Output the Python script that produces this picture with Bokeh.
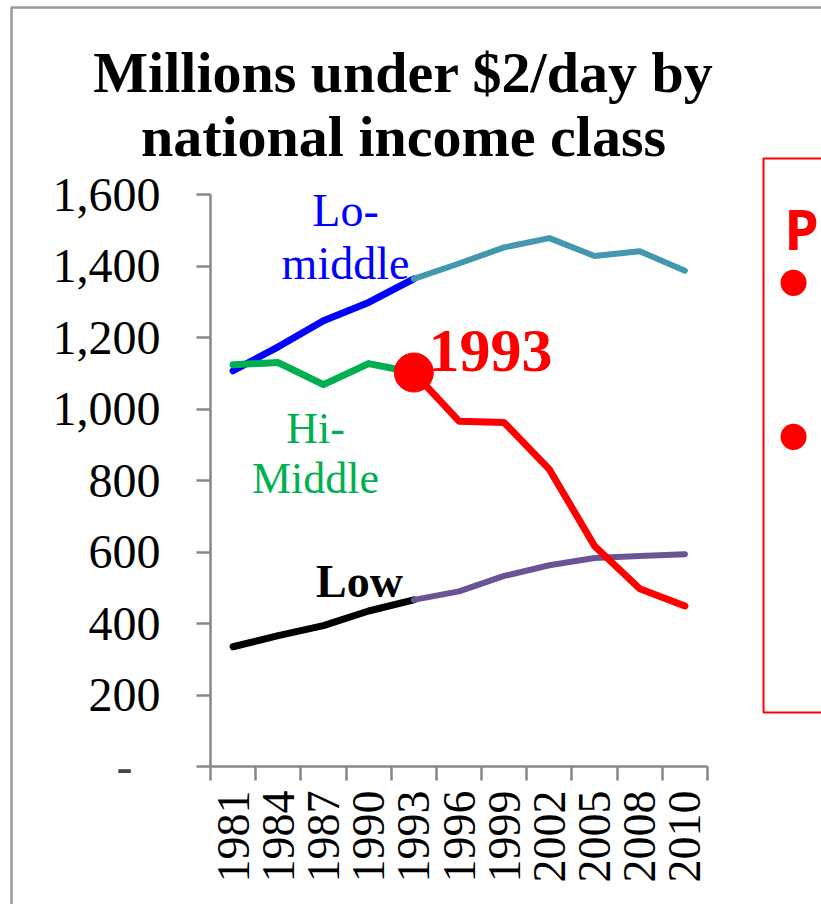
from math import pi

from bokeh.embed import file_html
from bokeh.models import (FixedTicker, Label, LinearAxis, NumeralTickFormatter,
                          PolyAnnotation, Range1d)
from bokeh.plotting import figure
from bokeh.resources import INLINE

# Millions of people living under $2/day, by national income class
years = ["1981", "1984", "1987", "1990", "1993", "1996",
         "1999", "2002", "2005", "2008", "2010"]
lo_middle = [1107, 1174, 1247, 1298, 1364, 1407, 1452, 1478, 1428, 1441, 1387]
hi_middle = [1124, 1130, 1068, 1127, 1102, 966, 962, 831, 617, 497, 449]
low = [335, 366, 394, 435, 466, 490, 533, 563, 583, 589, 594]
y_ticks = [0, 200, 400, 600, 800, 1000, 1200, 1400, 1600]
split_year = "1993"

W, H = 821, 904
# pixel box of the chart area inside the slide
LEFT, RIGHT, TOP, BOTTOM = 210, 707, 194, 766
Y_MAX = 1600
SERIF = "Liberation Serif"
GREY = "#878787"


# canvas pixel -> data coordinate helpers (the plot frame fills the canvas)
def dx(px):
    return (px - LEFT) / (RIGHT - LEFT) * len(years)


def dy(py):
    return (BOTTOM - py) / (BOTTOM - TOP) * Y_MAX


p = figure(width=W, height=H, output_backend="svg", toolbar_location=None,
           x_range=Range1d(dx(0), dx(W)), y_range=Range1d(dy(H), dy(0)),
           x_axis_location=None, y_axis_location=None,
           min_border=0)
p.title.visible = False
p.grid.visible = False
p.outline_line_color = None
p.background_fill_color = "white"
p.border_fill_color = "white"

# x axis: year labels centred between boundary ticks
xa = LinearAxis(fixed_location=0, bounds=(0, len(years)))
xa.ticker = FixedTicker(ticks=[i + 0.5 for i in range(len(years))],
                        minor_ticks=list(range(len(years) + 1)))
xa.major_label_overrides = {i + 0.5: y for i, y in enumerate(years)}
xa.major_label_orientation = pi / 2
xa.major_tick_out = 0
xa.major_tick_in = 0
xa.minor_tick_out = 14
xa.minor_tick_in = 0
xa.minor_tick_line_color = GREY
xa.minor_tick_line_width = 2.5
xa.axis_line_color = GREY
xa.axis_line_width = 2.5
xa.major_label_text_font = SERIF
xa.major_label_text_font_size = "46px"
xa.major_label_text_color = "black"
xa.major_label_standoff = 10
p.add_layout(xa, "below")

# y axis
ya = LinearAxis(fixed_location=0, bounds=(0, Y_MAX))
ya.ticker = FixedTicker(ticks=y_ticks, minor_ticks=[])
ya.formatter = NumeralTickFormatter(format="0,0")
ya.major_label_overrides = {0: ""}
ya.major_tick_out = 14
ya.major_tick_in = 0
ya.major_tick_line_color = GREY
ya.major_tick_line_width = 2.5
ya.axis_line_color = GREY
ya.axis_line_width = 2.5
ya.major_label_text_font = SERIF
ya.major_label_text_font_size = "48px"
ya.major_label_text_color = "black"
ya.major_label_standoff = 36
p.add_layout(ya, "left")

# zero drawn as an accounting dash
p.add_layout(Label(x=dx(124), y=0, text="-", text_font=SERIF,
                   text_font_size="48px", text_align="center",
                   text_baseline="middle"))

xs = [i + 0.5 for i in range(len(years))]
k = years.index(split_year)


def seg(vals, a, b, color, width):
    p.line(xs[a:b], vals[a:b], line_color=color, line_width=width,
           line_cap="round", line_join="round")


seg(lo_middle, 0, k + 1, "#0000FF", 7)
seg(lo_middle, k, len(years), "#4398AF", 6)
seg(low, 0, k + 1, "black", 7)
seg(low, k, len(years), "#6A5493", 6)
seg(hi_middle, 0, k + 1, "#00B050", 7)
seg(hi_middle, k, len(years), "#FF0000", 7)
p.scatter([xs[k]], [hi_middle[k]], size=39, color="#FF0000")


def lab(x, y, text, color, size, bold=False, align="center", font=SERIF):
    p.add_layout(Label(x=x, y=y, text=text, text_color=color,
                       text_font=font, text_font_size=size,
                       text_font_style="bold" if bold else "normal",
                       text_align=align, text_baseline="alphabetic"))


# series labels
lab(dx(345), dy(210), "Lo-", "#0000FF", "46px")
lab(dx(345), dy(263), "middle", "#0000FF", "46px")
lab(dx(315), dy(428), "Hi-", "#00B050", "44px")
lab(dx(315), dy(478), "Middle", "#00B050", "44px")
lab(dx(359), dy(581), "Low", "black", "46px", bold=True)
lab(dx(490), dy(350), split_year, "#FF0000", "62px", bold=True)

# title
lab(dx(403), dy(72), "Millions under $2/day by", "black", "58px", bold=True)
lab(dx(403), dy(136), "national income class", "black", "58px", bold=True)

# slide frame and side call-out box
p.add_layout(PolyAnnotation(xs=[dx(11), dx(11), dx(900), dx(900)],
                            ys=[dy(1000), dy(7), dy(7), dy(1000)],
                            fill_alpha=0, line_alpha=1,
                            line_color="#999999", line_width=2.5))
p.add_layout(PolyAnnotation(xs=[dx(763), dx(763), dx(900), dx(900)],
                            ys=[dy(712), dy(158), dy(158), dy(712)],
                            fill_alpha=0, line_alpha=1,
                            line_color="#FF0000", line_width=2))
lab(dx(784), dy(228), "Po", "#FF0000", "55px", bold=True, align="left",
    font="Noto Sans")
for by in (281, 435):
    p.add_layout(Label(x=dx(793), y=dy(by), text="\u2022", text_color="#FF0000",
                       text_font="Liberation Sans", text_font_size="96px",
                       text_align="center", text_baseline="middle"))

open("out.html", "w").write(file_html(p, INLINE))
